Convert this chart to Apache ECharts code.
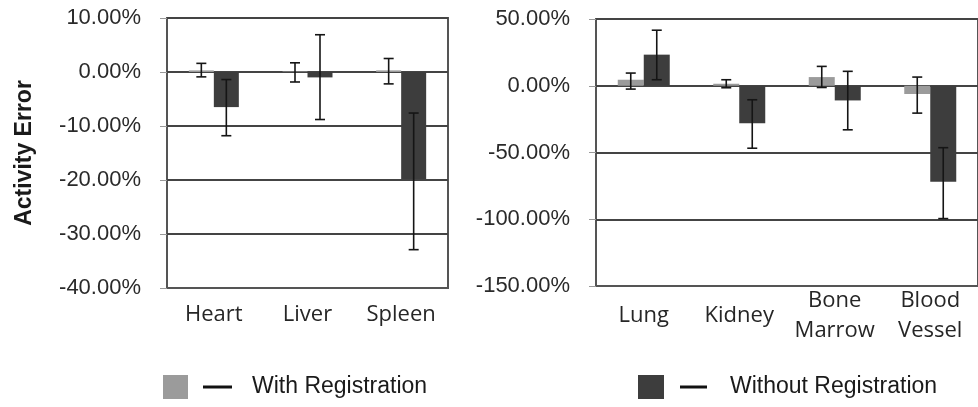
<!DOCTYPE html>
<html>
<head>
<meta charset="utf-8">
<script src="https://cdn.jsdelivr.net/npm/echarts@6/dist/echarts.min.js"></script>
<style>
html,body{margin:0;padding:0;background:#fff;}
#chart{width:978px;height:407px;}
</style>
</head>
<body>
<div id="chart"></div>
<script>
// ---- Data (percent) ----
var leftCategories = ['Heart', 'Liver', 'Spleen'];
var leftWith = [0.3, 0.1, 0.3];
var leftWithLow = [-0.9, -1.85, -2.2];
var leftWithHigh = [1.6, 1.7, 2.5];
var leftWithout = [-6.5, -1.0, -19.8];
var leftWithoutLow = [-11.8, -8.8, -32.9];
var leftWithoutHigh = [-1.4, 6.9, -7.6];

var rightCategories = ['Lung', 'Kidney', 'Bone\nMarrow', 'Blood\nVessel'];
var rightWith = [4.5, 1.5, 6.5, -6.2];
var rightWithLow = [-2.5, -1.5, -1.3, -20.5];
var rightWithHigh = [9.5, 4.5, 14.5, 6.5];
var rightWithout = [23.3, -28.0, -11.0, -72.0];
var rightWithoutLow = [4.5, -46.8, -33.0, -99.5];
var rightWithoutHigh = [41.6, -10.5, 10.8, -46.4];

var leftTicks = { min: -40, max: 10, interval: 10 };
var rightTicks = { min: -150, max: 50, interval: 50 };

var seriesNames = ['With Registration', 'Without Registration'];

// ---- Styles ----
var lightColor = '#9b9b9b';
var darkColor = '#3d3d3d';
var gridLineColor = '#444';
var barW = 26;

function errData(low, high) {
  return low.map(function (l, i) { return [i, l, high[i]]; });
}
function errRender(offset) {
  return function (params, api) {
    var idx = api.value(0);
    var lo = api.coord([idx, api.value(1)]);
    var hi = api.coord([idx, api.value(2)]);
    var x = lo[0] + offset;
    var cap = 5;
    var st = { stroke: '#151515', lineWidth: 1.6 };
    return {
      type: 'group',
      children: [
        { type: 'line', shape: { x1: x, y1: lo[1], x2: x, y2: hi[1] }, style: st },
        { type: 'line', shape: { x1: x - cap, y1: lo[1], x2: x + cap, y2: lo[1] }, style: st },
        { type: 'line', shape: { x1: x - cap, y1: hi[1], x2: x + cap, y2: hi[1] }, style: st }
      ]
    };
  };
}

function yAxisCfg(gridIndex, ticks, withName) {
  var cfg = {
    type: 'value',
    gridIndex: gridIndex,
    min: ticks.min, max: ticks.max, interval: ticks.interval,
    axisLine: { show: false },
    axisTick: { show: true, length: 7, lineStyle: { color: '#999', width: 1 } },
    axisLabel: {
      margin: 26,
      fontFamily: 'Liberation Sans, Arial, sans-serif',
      fontSize: 22,
      color: '#2a2a2a',
      formatter: function (v) { return v.toFixed(2) + '%'; }
    },
    splitLine: { show: true, lineStyle: { color: gridLineColor, width: 2 } }
  };
  if (withName) {
    cfg.name = 'Activity Error';
    cfg.nameLocation = 'middle';
    cfg.nameRotate = 90;
    cfg.nameGap = 131;
    cfg.nameTextStyle = {
      fontFamily: 'Liberation Sans, Arial, sans-serif',
      fontWeight: 'bold', fontSize: 23, color: '#1a1a1a'
    };
  }
  return cfg;
}

function xAxisCfg(gridIndex, cats, margin) {
  return {
    type: 'category',
    gridIndex: gridIndex,
    data: cats,
    position: 'bottom',
    axisLine: { show: true, onZero: false, lineStyle: { color: '#555', width: 2 } },
    axisTick: { show: false },
    splitLine: { show: false },
    axisLabel: {
      interval: 0,
      margin: margin,
      verticalAlign: 'middle',
      lineHeight: 30,
      fontFamily: 'Open Sans, sans-serif',
      fontSize: 22,
      color: '#262626'
    }
  };
}

var option = {
  backgroundColor: '#fff',
  animation: false,
  grid: [
    { left: 167, top: 18, width: 281, height: 270, show: true, borderColor: '#555', borderWidth: 2, containLabel: false },
    { left: 596, top: 19, width: 384, height: 267, show: true, borderColor: '#555', borderWidth: 2, containLabel: false }
  ],
  xAxis: [xAxisCfg(0, leftCategories, 27), xAxisCfg(1, rightCategories, 30)],
  yAxis: [yAxisCfg(0, leftTicks, true), yAxisCfg(1, rightTicks, false)],
  legend: [
    {
      left: 163, top: 375, padding: 0,
      data: [seriesNames[0]],
      icon: 'rect', itemWidth: 25, itemHeight: 24,
      selectedMode: false,
      formatter: function (n) { return '{s1|}{d|}{s2|}' + n; },
      textStyle: {
        fontFamily: 'Liberation Sans, Arial, sans-serif', fontSize: 23, color: '#1a1a1a',
        rich: {
          s1: { width: 10, height: 3 },
          d: { width: 29, height: 3, backgroundColor: '#111' },
          s2: { width: 20, height: 3 }
        }
      }
    },
    {
      left: 638, top: 375, padding: 0,
      data: [seriesNames[1]],
      icon: 'rect', itemWidth: 26, itemHeight: 24,
      selectedMode: false,
      formatter: function (n) { return '{s1|}{d|}{s2|}' + n; },
      textStyle: {
        fontFamily: 'Liberation Sans, Arial, sans-serif', fontSize: 23, color: '#1a1a1a',
        rich: {
          s1: { width: 11, height: 3 },
          d: { width: 27, height: 3, backgroundColor: '#111' },
          s2: { width: 23, height: 3 }
        }
      }
    }
  ],
  series: [
    { name: seriesNames[0], type: 'bar', xAxisIndex: 0, yAxisIndex: 0, data: leftWith, barWidth: 25, barGap: '0%', itemStyle: { color: lightColor } },
    { name: seriesNames[1], type: 'bar', xAxisIndex: 0, yAxisIndex: 0, data: leftWithout, barWidth: 25, barGap: '0%', itemStyle: { color: darkColor } },
    { name: seriesNames[0], type: 'bar', xAxisIndex: 1, yAxisIndex: 1, data: rightWith, barWidth: barW, barGap: '0%', itemStyle: { color: lightColor } },
    { name: seriesNames[1], type: 'bar', xAxisIndex: 1, yAxisIndex: 1, data: rightWithout, barWidth: barW, barGap: '0%', itemStyle: { color: darkColor } },
    { type: 'custom', xAxisIndex: 0, yAxisIndex: 0, renderItem: errRender(-12.5), data: errData(leftWithLow, leftWithHigh), encode: { x: 0, y: [1, 2] }, z: 5 },
    { type: 'custom', xAxisIndex: 0, yAxisIndex: 0, renderItem: errRender(12.5), data: errData(leftWithoutLow, leftWithoutHigh), encode: { x: 0, y: [1, 2] }, z: 5 },
    { type: 'custom', xAxisIndex: 1, yAxisIndex: 1, renderItem: errRender(-barW / 2), data: errData(rightWithLow, rightWithHigh), encode: { x: 0, y: [1, 2] }, z: 5 },
    { type: 'custom', xAxisIndex: 1, yAxisIndex: 1, renderItem: errRender(barW / 2), data: errData(rightWithoutLow, rightWithoutHigh), encode: { x: 0, y: [1, 2] }, z: 5 }
  ]
};

var chart = echarts.init(document.getElementById('chart'), null, { renderer: 'canvas' });
chart.setOption(option);
</script>
</body>
</html>
